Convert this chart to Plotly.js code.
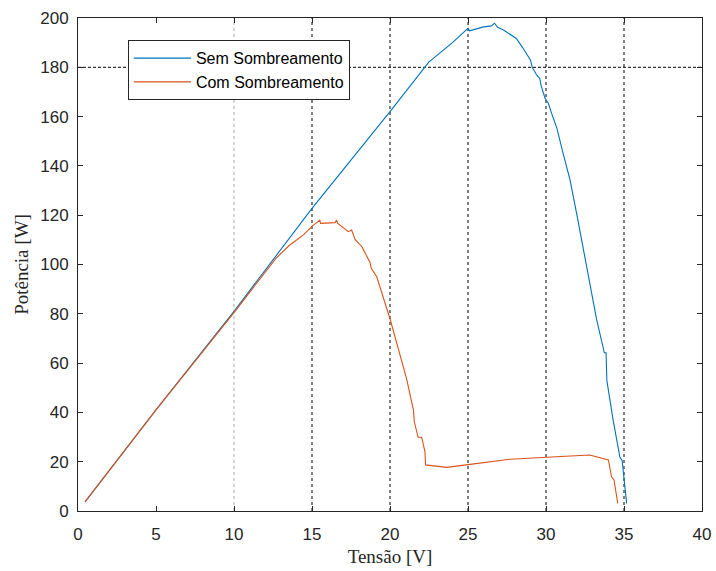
<!DOCTYPE html>
<html>
<head>
<meta charset="utf-8">
<script src="https://cdn.plot.ly/plotly-3.0.1.min.js"></script>
<style>html,body{margin:0;padding:0;background:#fff;}#chart{width:716px;height:571px;}</style>
</head>
<body>
<div id="chart"></div>
<script>
// Sem Sombreamento (blue)
const semV = [0.45, 5, 10, 15, 20, 22.24, 22.5, 22.7, 24, 25, 25.1, 26, 26.5, 26.7, 26.9, 27.3, 27.7, 27.9, 28.1, 28.5, 29.0, 29.12, 29.4, 29.6, 29.68, 29.94, 30.15, 30.36, 30.7, 31.1, 31.54, 32.0, 32.4, 32.8, 33.25, 33.74, 33.85, 33.9, 34.3, 34.74, 34.88, 35.17];
const semP = [3.7, 41, 81, 122.8, 162, 180, 182.2, 183.2, 190, 195.8, 194.8, 196.4, 196.8, 197.9, 196.2, 195, 193.5, 192.7, 191.7, 188, 183, 180, 176.9, 175.5, 172.8, 167.4, 165.4, 161.3, 155.2, 145, 134.3, 119.5, 105.9, 92.5, 77.5, 64.2, 64.2, 53, 37, 21.8, 20.5, 3.1];
// Com Sombreamento (orange)
const comV = [0.45, 5, 10, 11.45, 12.7, 13.5, 14.45, 15.02, 15.34, 15.5, 15.55, 16.47, 16.58, 16.65, 17.33, 17.54, 17.76, 18.2, 18.72, 18.8, 19.15, 20, 21.07, 21.5, 21.56, 21.8, 22.03, 22.24, 22.28, 23.63, 25.13, 27.7, 30.04, 32.8, 34.0, 34.2, 34.36, 34.6];
const comP = [3.7, 41, 80.5, 92.3, 102.6, 107.5, 112, 115.6, 117.4, 118, 116.7, 117, 118, 116.7, 113.3, 114, 110.2, 107.2, 100.8, 98.5, 95, 78, 53.5, 41, 36.2, 29.9, 29.9, 24.1, 18.7, 17.7, 18.9, 21, 21.8, 22.7, 20.7, 13.9, 12.6, 3.1];
const seriesNames = ["Sem Sombreamento", "Com Sombreamento"];
const xTicks = [0, 5, 10, 15, 20, 25, 30, 35, 40];
const yTicks = [0, 20, 40, 60, 80, 100, 120, 140, 160, 180, 200];
const gridXDark = [15, 20, 25, 30, 35];
const gridXLight = [10];
const gridYDark = [180];

const axisColor = '#262626';
const shapes = [];
gridXDark.forEach(v => shapes.push({type:'line', xref:'x', yref:'paper', x0:v, x1:v, y0:0, y1:1, layer:'below', line:{color:'#000', width:1, dash:'dot'}}));
gridXLight.forEach(v => shapes.push({type:'line', xref:'x', yref:'paper', x0:v, x1:v, y0:0, y1:1, layer:'below', line:{color:'#aaaaaa', width:1, dash:'dot'}}));
gridYDark.forEach(v => shapes.push({type:'line', xref:'paper', yref:'y', x0:0, x1:1, y0:v, y1:v, layer:'below', line:{color:'#000', width:1, dash:'3px,2px'}}));

const traces = [
  {x: semV, y: semP, type:'scatter', mode:'lines', name: seriesNames[0], line:{color:'#0072BD', width:1.1}},
  {x: comV, y: comP, type:'scatter', mode:'lines', name: seriesNames[1], line:{color:'#D95319', width:1.1}}
];

const layout = {
  width: 716, height: 571,
  margin: {l:78, r:14, t:18, b:60},
  paper_bgcolor:'#fff', plot_bgcolor:'#fff',
  showlegend: true,
  legend: {x:0.08, y:0.955, xanchor:'left', yanchor:'top', bgcolor:'#fff', bordercolor:axisColor, borderwidth:1,
           itemwidth:57, font:{family:'Liberation Sans, Arial, sans-serif', size:16, color:'#000'}, tracegroupgap:0},
  xaxis: {range:[0,40], tickvals:xTicks, ticktext:xTicks.map(String), showgrid:false, zeroline:false,
          showline:true, mirror:'ticks', linecolor:axisColor, linewidth:1, ticks:'inside', ticklen:5, tickcolor:axisColor,
          ticklabelstandoff:8,
          tickfont:{family:'Liberation Sans, Arial, sans-serif', size:17, color:axisColor},
          title:{text:'Tensão [V]', font:{family:'Liberation Serif, Times New Roman, serif', size:19, color:axisColor}, standoff:6}},
  yaxis: {range:[0,200], tickvals:yTicks, ticktext:yTicks.map(String), showgrid:false, zeroline:false,
          showline:true, mirror:'ticks', linecolor:axisColor, linewidth:1, ticks:'inside', ticklen:5, tickcolor:axisColor,
          ticklabelstandoff:5,
          tickfont:{family:'Liberation Sans, Arial, sans-serif', size:17, color:axisColor},
          title:{text:'Potência [W]', font:{family:'Liberation Serif, Times New Roman, serif', size:19, color:axisColor}, standoff:6}},
  shapes: shapes
};

Plotly.newPlot('chart', traces, layout, {displayModeBar:false, staticPlot:true});
</script>
</body>
</html>
